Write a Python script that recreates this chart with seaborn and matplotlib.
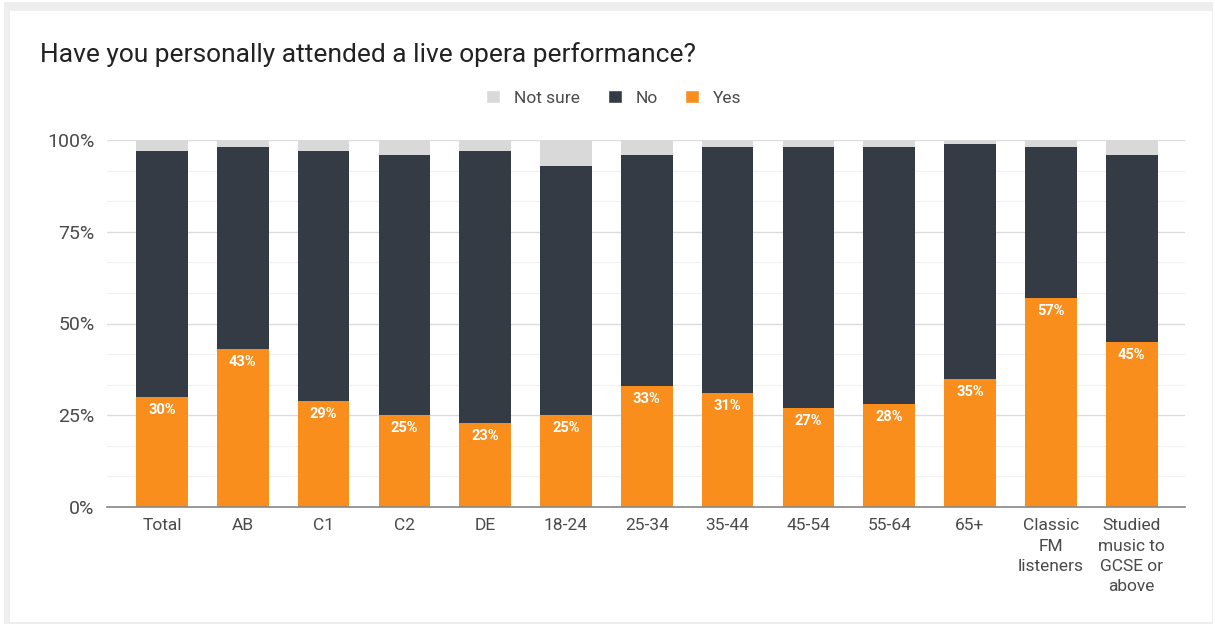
import matplotlib
matplotlib.use("Agg")
import matplotlib.pyplot as plt
from matplotlib.patches import Rectangle, Patch
from matplotlib.ticker import MultipleLocator
import seaborn as sns
import pandas as pd

categories = ["Total", "AB", "C1", "C2", "DE", "18-24", "25-34", "35-44",
              "45-54", "55-64", "65+", "Classic\nFM\nlisteners",
              "Studied\nmusic to\nGCSE or\nabove"]
yes = [30, 43, 29, 25, 23, 25, 33, 31, 27, 28, 35, 57, 45]
no = [67, 55, 68, 71, 74, 68, 63, 67, 71, 70, 64, 41, 51]
not_sure = [3, 2, 3, 4, 3, 7, 4, 2, 2, 2, 1, 2, 4]
y_ticks = [0, 25, 50, 75, 100]
title = "Have you personally attended a live opera performance?"

C_YES = "#f98e1d"
C_NO = "#353b45"
C_NOT_SURE = "#d9d9d9"

sns.set_theme(style="white")
plt.rcParams["font.family"] = ["Roboto", "DejaVu Sans"]

df = pd.DataFrame({"group": categories, "yes": yes, "no": no, "not_sure": not_sure})
df["yes_no"] = df["yes"] + df["no"]
df["all"] = df["yes_no"] + df["not_sure"]

W, H = 1215, 626
fig = plt.figure(figsize=(W / 100, H / 100), dpi=100, facecolor="white")

# card background with a light grey frame
fig.patches.append(Rectangle((4 / W, 2 / H), 1209 / W, 622 / H, transform=fig.transFigure,
                             facecolor="#eeeeee", edgecolor="none", zorder=-3))
fig.patches.append(Rectangle((10 / W, 4 / H), 1202 / W, 611 / H, transform=fig.transFigure,
                             facecolor="white", edgecolor="none", zorder=-2))

ax = fig.add_axes([107 / W, 1 - 507 / H, 1078 / W, 367 / H])
ax.set_facecolor("none")

# stacked layers, drawn back to front from cumulative totals
for col, color in [("all", C_NOT_SURE), ("yes_no", C_NO), ("yes", C_YES)]:
    sns.barplot(data=df, x="group", y=col, order=categories, color=color,
                width=0.64, saturation=1, ax=ax, zorder=3, linewidth=0)

for i, v in enumerate(yes):
    ax.text(i, v - 1.7, f"{v}%", ha="center", va="top", color="white",
            fontsize=10.5, fontweight="bold", zorder=5)

ax.set_xlim(-0.68, 12.66)
ax.set_ylim(0, 100)
ax.set_yticks(y_ticks)
ax.set_yticklabels([f"{t}%" for t in y_ticks])
ax.yaxis.set_minor_locator(MultipleLocator(25 / 3))
ax.grid(axis="y", which="major", color="#dcdcdc", linewidth=1, zorder=0)
ax.grid(axis="y", which="minor", color="#f1f1f1", linewidth=0.8, zorder=0)
ax.set_axisbelow(True)
ax.set_xlabel("")
ax.set_ylabel("")
for s in ["top", "right", "left"]:
    ax.spines[s].set_visible(False)
ax.spines["bottom"].set_color("#888888")
ax.spines["bottom"].set_linewidth(1.2)
ax.spines["bottom"].set_zorder(4)
ax.tick_params(axis="y", which="both", length=0, pad=9, labelsize=14, labelcolor="#4a4a4a")
ax.tick_params(axis="x", length=0, pad=8, labelsize=12.5, labelcolor="#4a4a4a")
for lbl in ax.get_xticklabels():
    lbl.set_linespacing(1.45)

fig.text(40 / W, 1 - 55 / H, title, ha="left", va="center", fontsize=19, color="#222222")

handles = [Patch(facecolor=C_NOT_SURE, label="Not sure"),
           Patch(facecolor=C_NO, label="No"),
           Patch(facecolor=C_YES, label="Yes")]
fig.legend(handles=handles, loc="center", bbox_to_anchor=(614 / W, 1 - 98 / H), ncol=3,
           frameon=False, fontsize=12.5, handlelength=0.8, handleheight=0.8,
           handletextpad=0.8, columnspacing=1.6, labelcolor="#4a4a4a")

fig.savefig("out.png", dpi=100, facecolor="white")
